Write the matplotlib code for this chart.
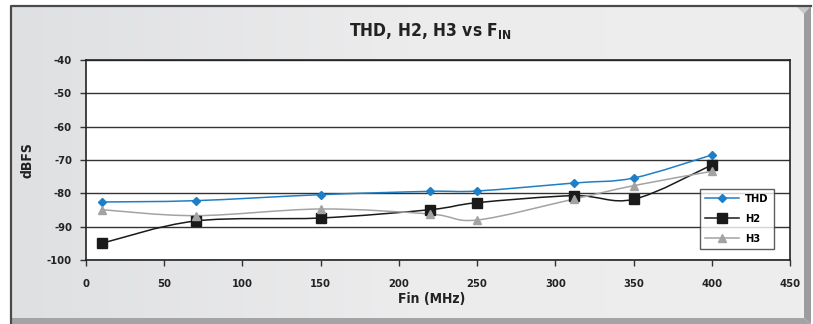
import numpy as np
import matplotlib
matplotlib.use('Agg')
import matplotlib.pyplot as plt
from matplotlib.path import Path
from matplotlib.patches import PathPatch, Polygon
from matplotlib.lines import Line2D
from matplotlib import font_manager

# ---------------------------------------------------------------------------
# Data
# ---------------------------------------------------------------------------
fin_mhz = [10, 70, 150, 220, 250, 312, 350, 400]
thd = [-82.6, -82.2, -80.4, -79.4, -79.3, -76.9, -75.4, -68.5]
h2 = [-95.0, -88.3, -87.4, -84.9, -82.8, -80.7, -81.8, -71.5]
h3 = [-84.9, -86.7, -84.7, -86.2, -88.0, -81.7, -77.7, -73.4]

series_names = ['THD', 'H2', 'H3']
y_ticks = [-40, -50, -60, -70, -80, -90, -100]
x_ticks = [0, 50, 100, 150, 200, 250, 300, 350, 400, 450]

# condensed bold face, closest to the original look
fonts = font_manager.fontManager.ttflist
names = {f.name for f in fonts}
condensed = [f for f in fonts if f.name == 'DejaVu Sans' and 'ondensed' in f.fname and 'Bold' in f.fname]
if 'Liberation Sans Narrow' in names:
    FONT = 'Liberation Sans Narrow'
    plt.rcParams['font.family'] = FONT
elif condensed:
    font_manager.fontManager.addfont(condensed[0].fname)
    plt.rcParams['font.family'] = 'DejaVu Sans'
    plt.rcParams['font.stretch'] = 'condensed'
else:
    plt.rcParams['font.family'] = 'DejaVu Sans'
    plt.rcParams['font.stretch'] = 'condensed'
plt.rcParams['font.weight'] = 'bold'
plt.rcParams['axes.unicode_minus'] = False
plt.rcParams['mathtext.default'] = 'regular'

W, H = 813, 324
fig = plt.figure(figsize=(W / 100, H / 100), dpi=100)

# ---------------------------------------------------------------------------
# Background panel with bevelled frame (pixel coordinates)
# ---------------------------------------------------------------------------
bg = fig.add_axes([0, 0, 1, 1], zorder=-5)
bg.set_xlim(0, W)
bg.set_ylim(H, 0)
bg.axis('off')
grad = np.linspace(0, 1, 256)[None, :]
bg.imshow(grad, extent=[11, 804, 318, 6], cmap=matplotlib.colors.LinearSegmentedColormap.from_list(
    'panel', ['#dfe0e2', '#ececed', '#eeeeef']), aspect='auto', zorder=0)
bg.add_patch(Polygon([[804, 6], [811, 6], [811, 324], [804, 318]], closed=True,
                     fc='#9c9c9e', ec='none', zorder=1))
bg.add_patch(Polygon([[11, 318], [804, 318], [811, 324], [11, 324]], closed=True,
                     fc='#a4a4a6', ec='none', zorder=1))
bg.add_patch(Polygon([[796, 6], [811, 6], [804, 14]], closed=True,
                     fc='#c8c8ca', ec='none', zorder=1))
bg.plot([10.5, 10.5, 811], [324, 5.5, 5.5], color='#4a4a4a', lw=1.6, zorder=2)

# ---------------------------------------------------------------------------
# Plot area
# ---------------------------------------------------------------------------
ax = fig.add_axes([86 / W, 1 - 260 / H, (790 - 86) / W, (260 - 60) / H])
ax.set_facecolor('white')
ax.set_xlim(0, 450)
ax.set_ylim(-100, -40)
ax.set_xticks(x_ticks)
ax.set_yticks(y_ticks)
ax.tick_params(axis='both', direction='out', length=4, width=1, color='#333333',
               labelsize=8, labelcolor='#222222')
ax.tick_params(axis='y', pad=6)
ax.tick_params(axis='x', pad=10)
for lab in ax.get_xticklabels() + ax.get_yticklabels():
    lab.set_fontweight('bold')
for s in ax.spines.values():
    s.set_color('#222222')
    s.set_linewidth(1.2)
ax.grid(axis='y', color='#333333', lw=1.0)
ax.set_axisbelow(True)


def smooth_path(x, y):
    # Catmull-Rom style Bezier through the points (Excel "smoothed line")
    p = np.column_stack([x, y]).astype(float)
    verts = [p[0]]
    codes = [Path.MOVETO]
    n = len(p)
    for i in range(n - 1):
        p0 = p[i - 1] if i > 0 else p[i]
        p3 = p[i + 2] if i + 2 < n else p[i + 1]
        c1 = p[i] + (p[i + 1] - p0) / 6.0
        c2 = p[i + 1] - (p3 - p[i]) / 6.0
        verts += [c1, c2, p[i + 1]]
        codes += [Path.CURVE4] * 3
    return Path(verts, codes)


styles = [
    (thd, '#1f7fc6', 'D', 4.5, 1.1),
    (h2, '#1a1a1a', 's', 6.5, 1.1),
    (h3, '#a3a3a3', '^', 6.0, 1.1),
]
handles = []
for (vals, col, mk, ms, lw), name in zip(styles, series_names):
    ax.add_patch(PathPatch(smooth_path(fin_mhz, vals), fill=False, ec=col, lw=lw, zorder=3))
    ax.plot(fin_mhz, vals, ls='none', marker=mk, ms=ms, color=col, zorder=4)
    handles.append(Line2D([], [], color=col, lw=lw, marker=mk, ms=ms))

leg = ax.legend(handles, series_names, loc='lower right', bbox_to_anchor=(0.977, 0.055),
                frameon=True, fancybox=False, fontsize=8, handlelength=3.0,
                labelspacing=0.9, borderpad=0.45, handletextpad=0.6, borderaxespad=0)
leg.get_frame().set_edgecolor('#333333')
leg.get_frame().set_linewidth(1.0)
for t in leg.get_texts():
    t.set_fontweight('bold')

fig.text(430 / W, 1 - 31 / H, r'THD, H2, H3 vs F$_{\mathbf{IN}}$', ha='center', va='center',
         fontsize=12.5, fontweight='bold', color='#222222')
fig.text(432 / W, 1 - 299 / H, 'Fin (MHz)', ha='center', va='center',
         fontsize=10, fontweight='bold', color='#222222')
fig.text(27 / W, 1 - 160 / H, 'dBFS', ha='center', va='center', rotation=90,
         fontsize=10, fontweight='bold', color='#222222')

fig.savefig('out.png', dpi=100)
